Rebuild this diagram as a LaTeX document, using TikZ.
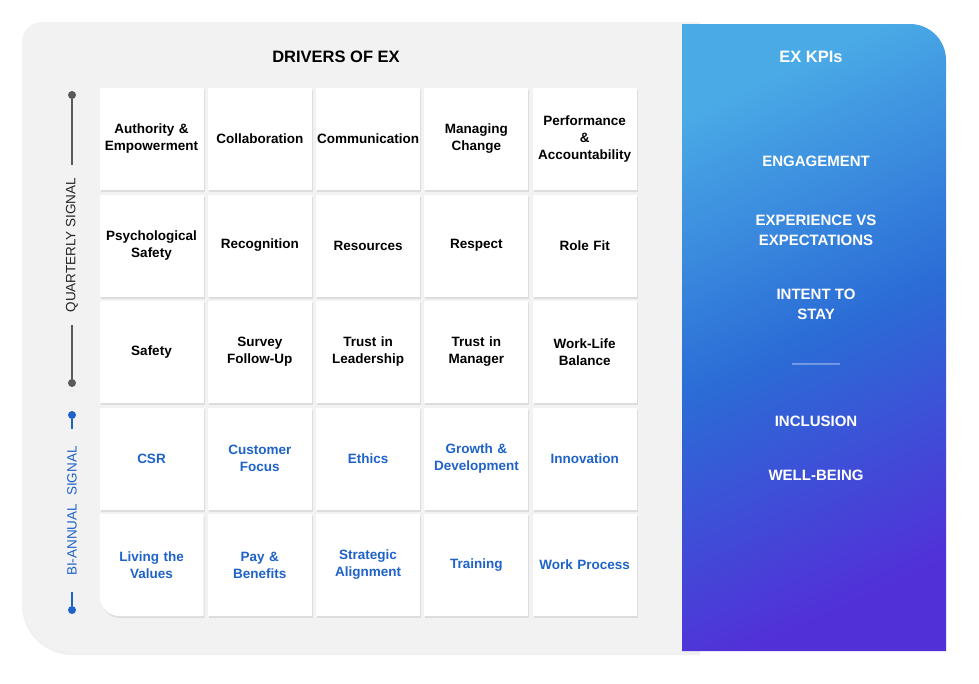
\documentclass[tikz,border=0pt]{standalone}
\usepackage{fontspec}
\setmainfont{Liberation Sans}
\usetikzlibrary{shadows,calc}
\definecolor{panelgray}{HTML}{F2F2F2}
\definecolor{axisgray}{HTML}{5A5A5A}
\definecolor{bluetxt}{HTML}{1F62C9}
\definecolor{gradA}{HTML}{4AAAE6}
\definecolor{gradB}{HTML}{2B6CD6}
\definecolor{gradC}{HTML}{5230D8}
\tikzset{
  cellbox/.style={fill=white, minimum width=104pt, minimum height=102pt, inner sep=0pt,
    drop shadow={shadow xshift=1pt, shadow yshift=-2pt, opacity=0.18}},
  celltxt/.style={align=center, font=\fontsize{13.5}{17}\selectfont\bfseries, text width=104pt},
  qtxt/.style={celltxt, text=black},
  btxt/.style={celltxt, text=bluetxt},
  kpi/.style={align=center, text=white, font=\fontsize{15}{20}\selectfont\bfseries},
  axisline/.style={line width=1.4pt},
  dot/.style={circle, inner sep=0pt, minimum size=8pt}
}
\begin{document}
\begin{tikzpicture}[x=1pt,y=-1pt]
\useasboundingbox (0,0) rectangle (979,683);
% gray panel
\fill[panelgray, drop shadow={shadow xshift=0pt, shadow yshift=-3pt, opacity=0.12}]
  (700,22) -- (42,22) arc[start angle=270, end angle=180, radius=20] -- (22,602)
  arc[start angle=180, end angle=90, radius=50] -- (700,652) -- cycle;
% blue panel
\shade[top color=gradA, bottom color=gradC, middle color=gradB, shading angle=25]
  (682,651) -- (682,24) [rounded corners=36pt] -- (946,24) [sharp corners] -- (946,651) -- cycle;
% titles
\node[font=\fontsize{16.5}{20}\selectfont\bfseries] (title) at (336,57) {DRIVERS OF EX};
\node[kpi, font=\fontsize{16.5}{20}\selectfont\bfseries] (kpititle) at (811,57) {EX KPIs};
\node[kpi] (k1) at (816,161) {ENGAGEMENT};
\node[kpi] (k2) at (816,230) {EXPERIENCE VS\\EXPECTATIONS};
\node[kpi] (k3) at (816,304) {INTENT TO\\STAY};
\node[text=white!80!gradB, font=\fontsize{12}{12}\selectfont] (k4) at (816,366) {------------};
\node[kpi] (k5) at (816,421) {INCLUSION};
\node[kpi] (k6) at (816,475) {WELL-BEING};
% grid
\foreach \c/\x in {1/151.5,2/259.8,3/368.1,4/476.4,5/584.7}{
  \foreach \r/\y in {1/139,2/245.5,3/352,4/458.5}{
    \node[cellbox] (c\r\c) at (\x,\y) {};
  }
}
\foreach \c/\x in {2/259.8,3/368.1,4/476.4,5/584.7}{
  \node[cellbox] (c5\c) at (\x,565) {};
}
\fill[white, drop shadow={shadow xshift=1pt, shadow yshift=-2pt, opacity=0.18}]
  (99.5,514) -- (203.5,514) -- (203.5,616) -- (119.5,616) arc[start angle=90, end angle=180, radius=20] -- cycle;
\node[minimum width=104pt, minimum height=102pt, inner sep=0pt] (c51) at (151.5,565) {};
% texts
\node[qtxt] at (c11) {Authority \&\\Empowerment};
\node[qtxt] at (c12) {Collaboration};
\node[qtxt] at (c13) {Communication};
\node[qtxt] at (c14) {Managing\\Change};
\node[qtxt] at (c15) {Performance\\\&\\Accountability};
\node[qtxt] at (c21) {Psychological\\Safety};
\node[qtxt] at (c22) {Recognition};
\node[qtxt] at (c23) {Resources};
\node[qtxt] at (c24) {Respect};
\node[qtxt] at (c25) {Role Fit};
\node[qtxt] at (c31) {Safety};
\node[qtxt] at (c32) {Survey\\Follow-Up};
\node[qtxt] at (c33) {Trust in\\Leadership};
\node[qtxt] at (c34) {Trust in\\Manager};
\node[qtxt] at (c35) {Work-Life\\Balance};
\node[btxt] at (c41) {CSR};
\node[btxt] at (c42) {Customer\\Focus};
\node[btxt] at (c43) {Ethics};
\node[btxt] at (c44) {Growth \&\\Development};
\node[btxt] at (c45) {Innovation};
\node[btxt] at (c51) {Living the\\Values};
\node[btxt] at (c52) {Pay \&\\Benefits};
\node[btxt] at (c53) {Strategic\\Alignment};
\node[btxt] at (c54) {Training};
\node[btxt] at (c55) {Work Process};
% quarterly axis
\node[dot, fill=axisgray] (qtop) at (72,95) {};
\node[dot, fill=axisgray] (qbot) at (72,383) {};
\node[rotate=90, text=black!85, font=\fontsize{13.5}{14}\selectfont, inner sep=0pt] (qlab) at (72,245) {QUARTERLY SIGNAL};
\coordinate (qa) at (72,165);
\coordinate (qb) at (72,325);
\draw[axisline, axisgray] (qtop) -- (qa);
\draw[axisline, axisgray] (qb) -- (qbot);
% bi-annual axis
\node[dot, fill=bluetxt] (btop) at (72,415) {};
\node[dot, fill=bluetxt] (bbot) at (72,610) {};
\node[rotate=90, text=bluetxt, font=\fontsize{13.5}{14}\selectfont, inner sep=0pt] (blab) at (72,511) {BI-ANNUAL\hspace{8pt}SIGNAL};
\coordinate (ba) at (72,429);
\coordinate (bb) at (72,592);
\draw[axisline, bluetxt] (btop) -- (ba);
\draw[axisline, bluetxt] (bb) -- (bbot);
\end{tikzpicture}
\end{document}
